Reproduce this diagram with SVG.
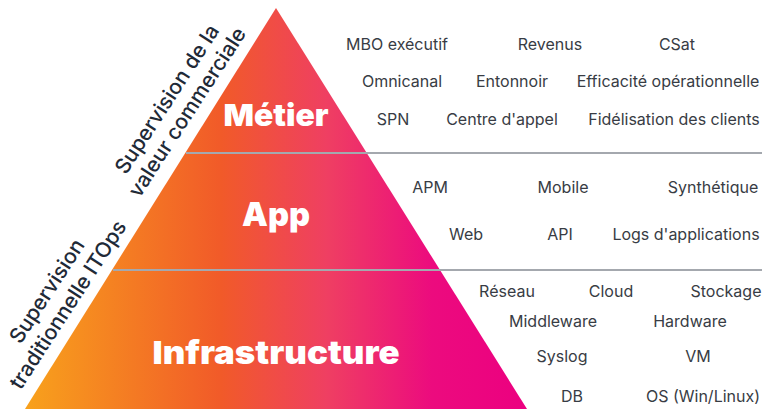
<svg xmlns="http://www.w3.org/2000/svg" width="765" height="409" viewBox="0 0 765 409">
  <style>
    .tier { font-family: Inter, "Liberation Sans", sans-serif; font-weight: 900; fill: #ffffff; text-anchor: middle; }
    .item { font-family: Inter, "Liberation Sans", sans-serif; font-size: 16px; fill: #383c44; text-anchor: middle; }
    .side { font-family: Inter, "Liberation Sans", sans-serif; font-size: 21px; font-weight: 500; fill: #1f2a37; text-anchor: middle; }
    .rule { stroke: #a4a8ae; stroke-width: 2; fill: none; }
  </style>
  <defs>
    <linearGradient id="pyramidFill" gradientUnits="userSpaceOnUse" x1="26" y1="0" x2="527" y2="0">
      <stop offset="0" stop-color="#f8a11c"/>
      <stop offset="0.39" stop-color="#f15a29"/>
      <stop offset="0.6" stop-color="#ef3f62"/>
      <stop offset="0.81" stop-color="#ec0b7e"/>
      <stop offset="1" stop-color="#ec0080"/>
    </linearGradient>
  </defs>

  <!-- pyramid body -->
  <polygon points="276,8 527,409 25,409" fill="url(#pyramidFill)"/>

  <!-- tier separators -->
  <g id="separators">
    <line class="rule" x1="186" y1="153" x2="762" y2="153"/>
    <line class="rule" x1="113" y1="270" x2="762" y2="270"/>
  </g>

  <!-- tier titles -->
  <g id="tier-metier">
    <text class="tier" x="276" y="126" font-size="30" textLength="105" lengthAdjust="spacingAndGlyphs">Métier</text>
  </g>
  <g id="tier-app">
    <text class="tier" x="276" y="226" font-size="33" textLength="68" lengthAdjust="spacingAndGlyphs">App</text>
  </g>
  <g id="tier-infrastructure">
    <text class="tier" x="276" y="364" font-size="32" textLength="247" lengthAdjust="spacingAndGlyphs">Infrastructure</text>
  </g>

  <!-- side captions along the pyramid edge -->
  <g id="caption-business" transform="translate(173,103) rotate(-57)">
    <text class="side" x="0" y="0">Supervision de la</text>
    <text class="side" x="0" y="24">valeur commerciale</text>
  </g>
  <g id="caption-itops" transform="translate(53,295) rotate(-57)">
    <text class="side" x="0" y="0">Supervision</text>
    <text class="side" x="0" y="25">traditionnelle ITOps</text>
  </g>

  <!-- business metrics -->
  <g id="items-metier">
    <text class="item" x="397" y="50">MBO exécutif</text>
    <text class="item" x="550" y="50">Revenus</text>
    <text class="item" x="677" y="50">CSat</text>
    <text class="item" x="402" y="87">Omnicanal</text>
    <text class="item" x="512" y="87">Entonnoir</text>
    <text class="item" x="668" y="87">Efficacité opérationnelle</text>
    <text class="item" x="393" y="125">SPN</text>
    <text class="item" x="502" y="125">Centre d'appel</text>
    <text class="item" x="674" y="125">Fidélisation des clients</text>
  </g>

  <!-- application metrics -->
  <g id="items-app">
    <text class="item" x="430" y="193">APM</text>
    <text class="item" x="563" y="193">Mobile</text>
    <text class="item" x="713" y="193">Synthétique</text>
    <text class="item" x="466" y="240">Web</text>
    <text class="item" x="560" y="240">API</text>
    <text class="item" x="686" y="240">Logs d'applications</text>
  </g>

  <!-- infrastructure metrics -->
  <g id="items-infrastructure">
    <text class="item" x="507" y="297">Réseau</text>
    <text class="item" x="611" y="297">Cloud</text>
    <text class="item" x="726" y="297">Stockage</text>
    <text class="item" x="553" y="327">Middleware</text>
    <text class="item" x="690" y="327">Hardware</text>
    <text class="item" x="562" y="362">Syslog</text>
    <text class="item" x="698" y="362">VM</text>
    <text class="item" x="572" y="402">DB</text>
    <text class="item" x="703" y="402">OS (Win/Linux)</text>
  </g>
</svg>
